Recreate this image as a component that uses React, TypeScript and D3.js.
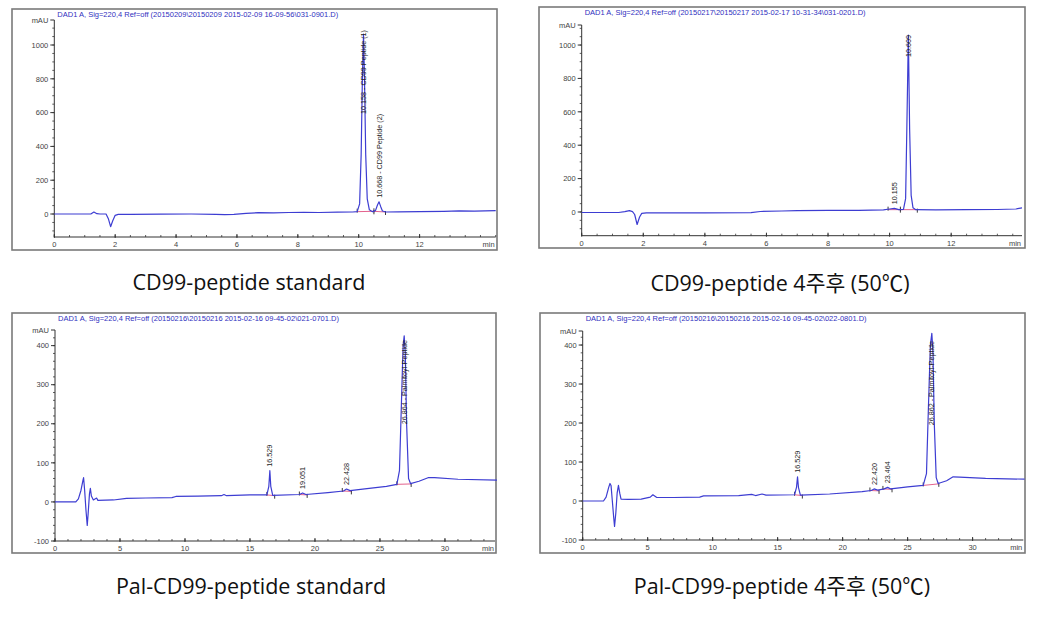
import React from "react";
import * as d3 from "d3";

type Pt = [number, number];

const TITLES = [
  "DAD1 A, Sig=220,4 Ref=off (20150209\\20150209 2015-02-09 16-09-56\\031-0901.D)",
  "DAD1 A, Sig=220,4 Ref=off (20150217\\20150217 2015-02-17 10-31-34\\031-0201.D)",
  "DAD1 A, Sig=220,4 Ref=off (20150216\\20150216 2015-02-16 09-45-02\\021-0701.D)",
  "DAD1 A, Sig=220,4 Ref=off (20150216\\20150216 2015-02-16 09-45-02\\022-0801.D)",
];

const CAPTIONS = [
  "CD99-peptide standard",
  "CD99-peptide 4주후 (50℃)",
  "Pal-CD99-peptide standard",
  "Pal-CD99-peptide 4주후 (50℃)",
];

const X_TICKS_TOP = [0, 2, 4, 6, 8, 10, 12];
const X_TICKS_BOTTOM = [0, 5, 10, 15, 20, 25, 30];
const Y_TICKS_TOP = [0, 200, 400, 600, 800, 1000];
const Y_TICKS_BOTTOM = [-100, 0, 100, 200, 300, 400];

// retention time (min), absorbance (mAU)
const TRACE_1: Pt[] = [
  [0, 0], [1.2, 0], [1.3, 12], [1.4, 2], [1.5, 0], [1.7, 0], [1.78, -30], [1.85, -75], [1.92, -40],
  [2.0, -8], [2.1, -2], [2.5, -2], [3.5, -1], [4.5, 0], [5.3, -2], [5.6, -4], [5.9, -2], [6.3, 4],
  [6.7, 8], [7.2, 7], [7.7, 9], [8.2, 10], [8.7, 9], [9.3, 11], [9.8, 12], [9.95, 14], [10.03, 60],
  [10.08, 350], [10.12, 800], [10.158, 1065], [10.19, 800], [10.23, 350], [10.28, 90], [10.35, 25],
  [10.45, 14], [10.55, 20], [10.62, 55], [10.668, 72], [10.72, 45], [10.78, 18], [10.9, 12],
  [11.3, 13], [12, 14], [12.8, 16], [13.3, 18], [13.8, 17], [14.5, 20],
];
const TRACE_2: Pt[] = [
  [0, -3], [1.2, -3], [1.4, 2], [1.55, 8], [1.65, 2], [1.72, -15], [1.8, -75], [1.88, -30], [1.95, -8],
  [2.1, -5], [3, -5], [4, -5], [5.5, -4], [5.8, 3], [6.5, 6], [7, 8], [8, 10], [9, 10], [9.8, 13],
  [10.0, 18], [10.155, 22], [10.3, 14], [10.45, 15], [10.52, 80], [10.56, 500], [10.609, 1060],
  [10.65, 500], [10.7, 100], [10.76, 25], [10.85, 14], [11.5, 13], [12.5, 14], [13.5, 15], [14.1, 18],
  [14.3, 25],
];
const TRACE_3: Pt[] = [
  [0, 0], [1.6, 0], [1.8, 8], [2.0, 30], [2.15, 55], [2.2, 62], [2.28, 30], [2.38, -20], [2.48, -60],
  [2.55, -30], [2.65, 20], [2.72, 35], [2.8, 15], [2.95, 5], [3.2, 10], [3.3, 4], [4.5, 5], [5.5, 9],
  [7, 10], [9, 11], [9.3, 14], [11, 15], [12.8, 16], [13, 19], [13.2, 16], [15, 18], [16.3, 18],
  [16.45, 40], [16.529, 80], [16.6, 40], [16.75, 17], [18.8, 19], [19.051, 23], [19.3, 19], [21, 24],
  [22.2, 28], [22.428, 33], [22.7, 29], [24, 34], [25.5, 40], [26.3, 45], [26.5, 80], [26.65, 250],
  [26.78, 400], [26.864, 425], [26.95, 380], [27.05, 200], [27.2, 60], [27.35, 47], [28.0, 53],
  [28.7, 62], [29.2, 62], [31, 58], [34, 56],
];
const TRACE_4: Pt[] = [
  [0, 0], [1.6, 0], [1.8, 10], [2.0, 35], [2.1, 45], [2.18, 40], [2.28, 0], [2.38, -40], [2.45, -65],
  [2.55, -30], [2.65, 20], [2.75, 40], [2.85, 20], [2.95, 5], [3.5, 4], [4.5, 5], [5.2, 10], [5.4, 16],
  [5.7, 9], [7, 9], [9, 10], [9.3, 13], [12, 14], [13, 17], [13.3, 14], [13.8, 18], [14.1, 15],
  [16.3, 16], [16.45, 35], [16.529, 62], [16.6, 35], [16.75, 15], [19, 18], [21.5, 24], [22.2, 27],
  [22.42, 31], [22.7, 28], [23.2, 31], [23.464, 35], [23.7, 31], [25, 36], [26.2, 40], [26.45, 70],
  [26.6, 240], [26.75, 400], [26.862, 430], [26.95, 380], [27.05, 200], [27.2, 60], [27.35, 45],
  [28, 52], [28.5, 62], [29, 61], [31, 58], [34, 56],
];

type Peak = { t: number; v: number; label: string; start: Pt; end: Pt };

const PEAKS_1: Peak[] = [
  { t: 10.158, v: 1065, label: "10.158 - CD99 Peptide (1)", start: [9.95, 14], end: [10.5, 16] },
  { t: 10.668, v: 72, label: "10.668 - CD99 Peptide (2)", start: [10.5, 16], end: [10.88, 12] },
];
const PEAKS_2: Peak[] = [
  { t: 10.155, v: 22, label: "10.155", start: [9.95, 14], end: [10.35, 14] },
  { t: 10.609, v: 1060, label: "10.609", start: [10.35, 14], end: [10.9, 14] },
];
const PEAKS_3: Peak[] = [
  { t: 16.529, v: 80, label: "16.529", start: [16.3, 18], end: [16.9, 16] },
  { t: 19.051, v: 23, label: "19.051", start: [18.8, 19], end: [19.4, 18] },
  { t: 22.428, v: 33, label: "22.428", start: [22.1, 28], end: [22.8, 27] },
  { t: 26.864, v: 425, label: "26.864 - Palmitoyl-Peptide", start: [26.3, 45], end: [27.4, 46] },
];
const PEAKS_4: Peak[] = [
  { t: 16.529, v: 62, label: "16.529", start: [16.3, 16], end: [16.9, 14] },
  { t: 22.42, v: 31, label: "22.420", start: [22.1, 27], end: [22.8, 26] },
  { t: 23.464, v: 35, label: "23.464", start: [23.1, 31], end: [23.8, 30] },
  { t: 26.862, v: 430, label: "26.862 - Palmitoyl-Peptide", start: [26.2, 40], end: [27.4, 44] },
];

const PANELS = [
  {
    trace: TRACE_1, peaks: PEAKS_1, title: TITLES[0], caption: CAPTIONS[0],
    xTicks: X_TICKS_TOP, yTicks: Y_TICKS_TOP,
    layout: { frame: [12, 9, 497, 250], x0: 54.3, x1: 495.7, yTop: 20, yBot: 237, xMax: 14.5, yMin: -136, yMax: 1148, xMinor: 0.5, yMinor: 50, cap: [249, 290] },
  },
  {
    trace: TRACE_2, peaks: PEAKS_2, title: TITLES[1], caption: CAPTIONS[1],
    xTicks: X_TICKS_TOP, yTicks: Y_TICKS_TOP,
    layout: { frame: [539, 7, 1025, 248], x0: 581.7, x1: 1022, yTop: 25, yBot: 235.7, xMax: 14.3, yMin: -142, yMax: 1120, xMinor: 0.5, yMinor: 50, cap: [780, 291] },
  },
  {
    trace: TRACE_3, peaks: PEAKS_3, title: TITLES[2], caption: CAPTIONS[2],
    xTicks: X_TICKS_BOTTOM, yTicks: Y_TICKS_BOTTOM,
    layout: { frame: [12, 313, 496, 553], x0: 55, x1: 495, yTop: 330, yBot: 541, xMax: 33.85, yMin: -100, yMax: 440, xMinor: 1, yMinor: 20, cap: [251, 594] },
  },
  {
    trace: TRACE_4, peaks: PEAKS_4, title: TITLES[3], caption: CAPTIONS[3],
    xTicks: X_TICKS_BOTTOM, yTicks: Y_TICKS_BOTTOM,
    layout: { frame: [540, 313, 1025, 553], x0: 582.7, x1: 1023.3, yTop: 331, yBot: 540, xMax: 33.9, yMin: -100, yMax: 436, xMinor: 1, yMinor: 20, cap: [782, 594] },
  },
];

const AXIS_FONT = "'Liberation Sans', Arial, sans-serif";
const CAP_FONT = "'Open Sans', 'Noto Sans CJK KR', sans-serif";

function Panel({ p }: { p: (typeof PANELS)[number] }) {
  const L = p.layout;
  const x = d3.scaleLinear().domain([0, L.xMax]).range([L.x0, L.x1]);
  const y = d3.scaleLinear().domain([L.yMin, L.yMax]).range([L.yBot, L.yTop]);
  const line = d3.line<Pt>().x((d) => x(d[0])).y((d) => y(d[1]));
  const xMinor = d3.range(0, L.xMax + 1e-9, L.xMinor);
  const yMinor = d3.range(Math.ceil(L.yMin / L.yMinor) * L.yMinor, L.yMax, L.yMinor);
  const [fx0, fy0, fx1, fy1] = L.frame;
  return (
    <g>
      <rect x={fx0} y={fy0} width={fx1 - fx0} height={fy1 - fy0} fill="#fff" stroke="#7a7a7a" strokeWidth={1.6} />
      <text x={L.x0 + 3} y={fy0 + 7.5} fontSize={7.5} fill="#3030c0" fontFamily={AXIS_FONT}>{p.title}</text>
      {/* y axis */}
      <line x1={L.x0} x2={L.x0} y1={L.yTop} y2={L.yBot} stroke="#333" strokeWidth={1} />
      <line x1={L.x0 - 4} x2={L.x0} y1={L.yTop} y2={L.yTop} stroke="#333" />
      <text x={L.x0 - 6} y={L.yTop + 3} fontSize={7.5} textAnchor="end" fill="#444" fontFamily={AXIS_FONT}>mAU</text>
      {yMinor.map((v) => (
        <line key={"ym" + v} x1={L.x0 - 2} x2={L.x0} y1={y(v)} y2={y(v)} stroke="#333" strokeWidth={0.8} />
      ))}
      {p.yTicks.map((v) => (
        <g key={"y" + v}>
          <line x1={L.x0 - 4} x2={L.x0} y1={y(v)} y2={y(v)} stroke="#333" />
          <text x={L.x0 - 6} y={y(v) + 2.7} fontSize={7.5} textAnchor="end" fill="#444" fontFamily={AXIS_FONT}>{v}</text>
        </g>
      ))}
      {/* x axis */}
      <line x1={L.x0} x2={L.x1} y1={L.yBot} y2={L.yBot} stroke="#333" strokeWidth={1} />
      {xMinor.map((v) => (
        <line key={"xm" + v} x1={x(v)} x2={x(v)} y1={L.yBot - 2} y2={L.yBot} stroke="#333" strokeWidth={0.8} />
      ))}
      {p.xTicks.map((v) => (
        <g key={"x" + v}>
          <line x1={x(v)} x2={x(v)} y1={L.yBot - 3} y2={L.yBot + 1} stroke="#333" />
          <text x={x(v)} y={L.yBot + 10} fontSize={7.5} textAnchor="middle" fill="#444" fontFamily={AXIS_FONT}>{v}</text>
        </g>
      ))}
      <text x={L.x1 - 1} y={L.yBot + 10} fontSize={7.5} textAnchor="end" fill="#444" fontFamily={AXIS_FONT}>min</text>
      {/* integration baselines */}
      {p.peaks.map((k, i) => (
        <g key={"b" + i}>
          <line x1={x(k.start[0])} y1={y(k.start[1])} x2={x(k.end[0])} y2={y(k.end[1])} stroke="#e05080" strokeWidth={0.9} />
          <line x1={x(k.start[0])} x2={x(k.start[0])} y1={y(k.start[1]) - 3} y2={y(k.start[1]) + 1} stroke="#222" strokeWidth={0.9} />
          <line x1={x(k.end[0])} x2={x(k.end[0])} y1={y(k.end[1]) - 1} y2={y(k.end[1]) + 3} stroke="#222" strokeWidth={0.9} />
        </g>
      ))}
      <path d={line(p.trace) || ""} fill="none" stroke="#3d3dd2" strokeWidth={1.2} strokeLinejoin="round" />
      {p.peaks.map((k, i) => {
        const estLen = k.label.length * 3.6;
        const py = y(k.v) - 4;
        const big = py - estLen < L.yTop + 4;
        const tx = x(k.t) + 2.5;
        const ty = big ? L.yTop + 10 : py;
        return (
          <text key={"l" + i} x={0} y={0} transform={`translate(${tx},${ty}) rotate(-90)`} fontSize={7.2}
            textAnchor={big ? "end" : "start"} fill="#222" fontFamily={AXIS_FONT}>{k.label}</text>
        );
      })}
      <text x={L.cap[0]} y={L.cap[1]} fontSize={21.5} textAnchor="middle" fill="#111" fontFamily={CAP_FONT}>{p.caption}</text>
    </g>
  );
}

export default function App() {
  return (
    <svg width={1041} height={627} style={{ position: "absolute", left: 0, top: 0 }}>
      <rect width={1041} height={627} fill="#fff" />
      {PANELS.map((p, i) => (
        <Panel key={i} p={p} />
      ))}
    </svg>
  );
}
